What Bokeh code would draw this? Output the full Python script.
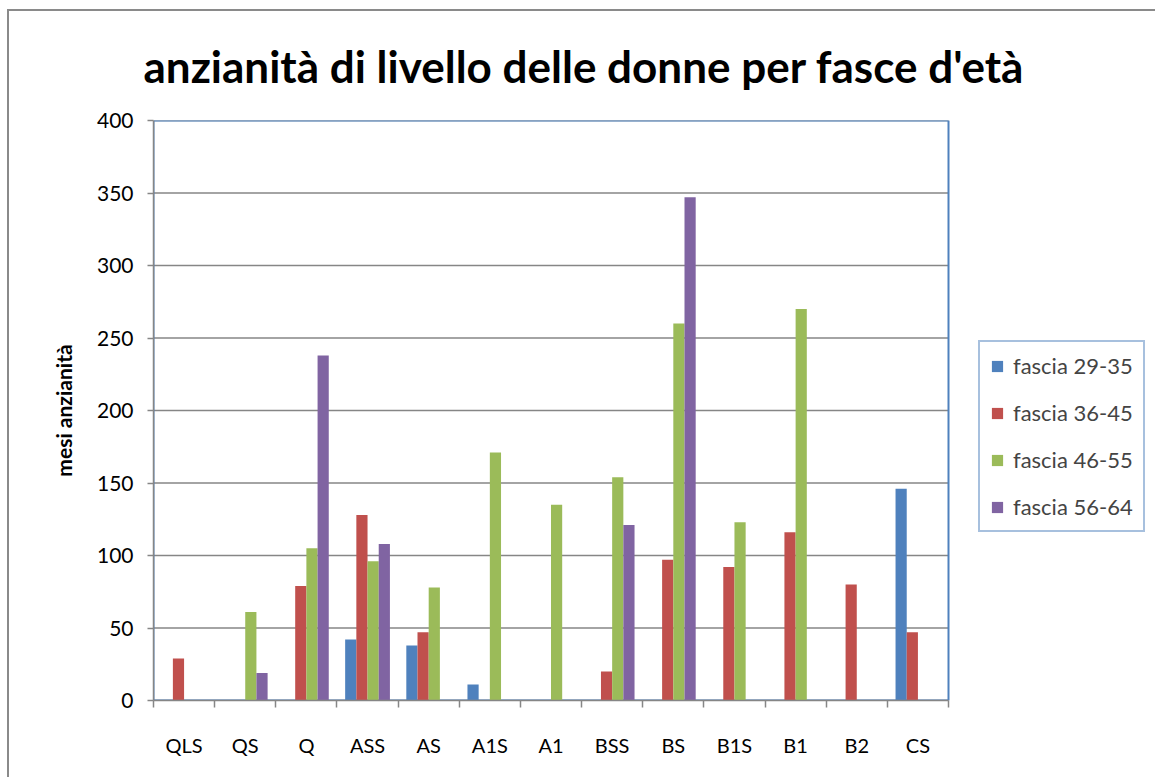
from bokeh.plotting import figure
from bokeh.models import (ColumnDataSource, FixedTicker, Legend, LegendItem)
from bokeh.embed import file_html
from bokeh.resources import INLINE

categories = ["QLS", "QS", "Q", "ASS", "AS", "A1S", "A1", "BSS", "BS", "B1S", "B1", "B2", "CS"]
series_names = ["fascia 29-35", "fascia 36-45", "fascia 46-55", "fascia 56-64"]
f29_35 = [0, 0, 0, 42, 38, 11, 0, 0, 0, 0, 0, 0, 146]
f36_45 = [29, 0, 79, 128, 47, 0, 0, 20, 97, 92, 116, 80, 47]
f46_55 = [0, 61, 105, 96, 78, 171, 135, 154, 260, 123, 270, 0, 0]
f56_64 = [0, 19, 238, 108, 0, 0, 0, 121, 347, 0, 0, 0, 0]
colors = ["#4F81BD", "#C0504D", "#9BBB59", "#8064A2"]
y_ticks = [0, 50, 100, 150, 200, 250, 300, 350, 400]

FONT = "Lato"
GRID = "#868686"
BLUE = "#4F81BD"

# layout (pixels)
OFF_X, OFF_Y = 9, 11          # css margin + border of the chart area
W, H = 1148, 768
ML = 153 - OFF_X              # frame left
MT = 120 - OFF_Y              # frame top
MB = H - (700 - OFF_Y)        # frame bottom
plot_px = 795                 # width of the category area
frame_px = W - ML
n = len(categories)
x_end = n * frame_px / plot_px

p = figure(width=W, height=H, output_backend="svg", toolbar_location=None,
           x_range=(0, x_end), y_range=(0, 400),
           min_border_left=ML, min_border_right=0, min_border_top=MT, min_border_bottom=MB)
p.styles = {"margin-left": "7px", "margin-top": "9px",
            "border-left": "2px solid #8a8a8a", "border-top": "2px solid #8a8a8a"}
p.title.text = "anzianità di livello delle donne per fasce d'età"
p.title.text_font = FONT
p.title.text_font_style = "bold"
p.title.text_font_size = "44px"
p.title.text_color = "black"
p.title.align = "left"
p.title.offset = -10
p.title.vertical_align = "top"
p.title.standoff = 54

p.outline_line_color = None
p.background_fill_color = "white"
p.border_fill_color = "white"
p.xgrid.grid_line_color = None
p.ygrid.grid_line_color = None

# horizontal grid lines over the category area
p.segment(x0=[0] * len(y_ticks), x1=[n] * len(y_ticks), y0=y_ticks, y1=y_ticks,
          line_color=GRID, line_width=1.5)
# plot-area border (top / right in blue)
p.quad(left=[0], right=[n], bottom=[0], top=[400], fill_color=None,
       line_color=BLUE, line_width=2)

centers = [i + 0.5 for i in range(n)]
bw = 0.183
all_series = [f29_35, f36_45, f46_55, f56_64]
renderers = []
for k, (vals, col) in enumerate(zip(all_series, colors)):
    xs = [c + (k - 1.5) * bw for c in centers]
    src = ColumnDataSource(dict(x=xs, top=vals))
    r = p.vbar(x="x", top="top", bottom=0, width=bw, source=src,
               fill_color=col, line_color=None)
    renderers.append(r)

# x axis: labels at centers, ticks at category boundaries
xt = FixedTicker(ticks=centers, minor_ticks=list(range(n + 1)))
p.xaxis.ticker = xt
p.xaxis.bounds = (0, n)
p.xaxis.major_label_overrides = {c: lab for c, lab in zip(centers, categories)}
p.xaxis.major_tick_out = 0
p.xaxis.major_tick_in = 0
p.xaxis.minor_tick_out = 7
p.xaxis.minor_tick_in = 0
p.xaxis.minor_tick_line_color = GRID
p.xaxis.minor_tick_line_width = 1.5
p.xaxis.axis_line_color = GRID
p.xaxis.axis_line_width = 1.5
p.xaxis.major_label_text_font = FONT
p.xaxis.major_label_text_font_size = "20px"
p.xaxis.major_label_text_color = "black"
p.xaxis.major_label_standoff = 25

p.yaxis.ticker = FixedTicker(ticks=y_ticks)
p.yaxis.minor_tick_line_color = None
p.yaxis.major_tick_out = 6
p.yaxis.major_tick_in = 0
p.yaxis.major_tick_line_color = GRID
p.yaxis.major_tick_line_width = 1.5
p.yaxis.axis_line_color = GRID
p.yaxis.axis_line_width = 1.5
p.yaxis.major_label_text_font = FONT
p.yaxis.major_label_text_font_size = "21px"
p.yaxis.major_label_text_color = "black"
p.yaxis.major_label_standoff = 14
p.yaxis.axis_label = "mesi anzianità"
p.yaxis.axis_label_text_font = FONT
p.yaxis.axis_label_text_font_style = "bold"
p.yaxis.axis_label_text_font_size = "21px"
p.yaxis.axis_label_text_color = "black"
p.yaxis.axis_label_standoff = 18

legend = Legend(items=[LegendItem(label=nm, renderers=[r]) for nm, r in zip(series_names, renderers)],
                location=(978 - 153, 700 - 532), margin=0, padding=10, spacing=20,
                glyph_width=14, glyph_height=14, label_height=22, label_standoff=9,
                label_text_font=FONT, label_text_font_size="22px",
                border_line_color=BLUE, border_line_width=2,
                background_fill_color="white", background_fill_alpha=1.0)
p.add_layout(legend, "center")

open("out.html", "w").write(file_html(p, INLINE))
